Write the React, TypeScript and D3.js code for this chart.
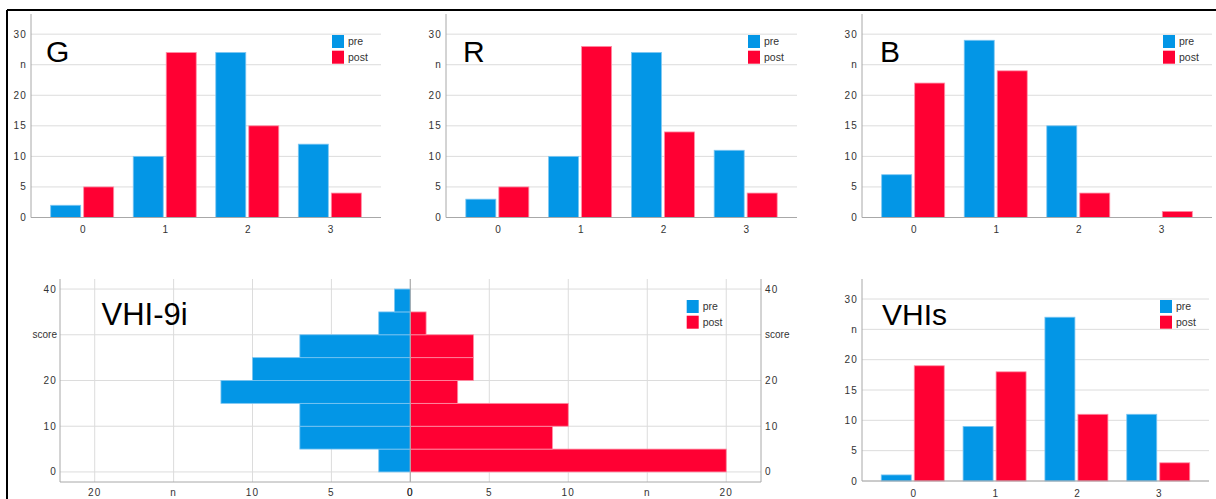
import React from "react";
import * as d3 from "d3";

const categories = ["0", "1", "2", "3"];
const gPre = [2, 10, 27, 12];
const gPost = [5, 27, 15, 4];
const rPre = [3, 10, 27, 11];
const rPost = [5, 28, 14, 4];
const bPre = [7, 29, 15, 0];
const bPost = [22, 24, 4, 1];
const vhisPre = [1, 9, 27, 11];
const vhisPost = [19, 18, 11, 3];

const barYTicks = [0, 5, 10, 15, 20, 25, 30];
const barYTickLabels = ["0", "5", "10", "15", "20", "n", "30"];

const vhiBinStarts = [0, 5, 10, 15, 20, 25, 30, 35];
const vhiBinWidth = 5;
const vhiPre = [2, 7, 7, 12, 10, 7, 2, 1];
const vhiPost = [20, 9, 10, 3, 4, 4, 1, 0];
const pyrYTicks = [0, 10, 20, 30, 40];
const pyrYTickLabels = ["0", "10", "20", "score", "40"];
const pyrXTicks = [0, 5, 10, 15, 20];
const pyrXTickLabels = ["0", "5", "10", "n", "20"];

const seriesNames = ["pre", "post"];

const BLUE = "#0396e6";
const RED = "#ff0033";
const BLUE_EDGE = "#7cc6f2";
const RED_EDGE = "#ff8fa6";
const GRID = "#dcdcdc";
const AXIS = "#a8a8a8";
const TXT = "#333";
const FONT = "'Liberation Sans', Arial, sans-serif";

type BarPanelProps = {
  title: string;
  pre: number[];
  post: number[];
  x0: number;
  x1: number;
  yTop: number;
  yBottom: number;
  titleDx: number;
  titleBaseline: number;
};

function Legend({ x, y }: { x: number; y: number }) {
  return (
    <g>
      {seriesNames.map((s, i) => (
        <g key={s}>
          <rect x={x} y={y + i * 15.7} width={12} height={13} fill={i === 0 ? BLUE : RED} />
          <text x={x + 16} y={y + i * 15.7 + 10} fontSize={10.5} fill={TXT} fontFamily={FONT}>
            {s}
          </text>
        </g>
      ))}
    </g>
  );
}

function BarPanel(p: BarPanelProps) {
  const y = d3.scaleLinear().domain([0, 33.3]).range([p.yBottom, p.yTop]);
  const x = d3.scalePoint<string>().domain(categories).range([p.x0, p.x1]).padding(0.62);
  const bw = 30;
  const gap = 1.5;
  return (
    <g>
      {barYTicks.map((t) => (
        <line key={"g" + t} x1={p.x0} x2={p.x1} y1={y(t)} y2={y(t)} stroke={GRID} strokeWidth={1} />
      ))}
      {categories.map((c, i) => {
        const cx = x(c) as number;
        const els = [];
        if (p.pre[i] > 0)
          els.push(
            <rect key={"pre" + c} x={cx - gap - bw} y={y(p.pre[i])} width={bw} height={y(0) - y(p.pre[i])}
              fill={BLUE} stroke={BLUE_EDGE} strokeWidth={0.8} />
          );
        if (p.post[i] > 0)
          els.push(
            <rect key={"post" + c} x={cx + gap} y={y(p.post[i])} width={bw} height={y(0) - y(p.post[i])}
              fill={RED} stroke={RED_EDGE} strokeWidth={0.8} />
          );
        return <g key={c}>{els}</g>;
      })}
      <line x1={p.x0} x2={p.x0} y1={p.yTop} y2={p.yBottom} stroke={AXIS} strokeWidth={1} />
      <line x1={p.x0} x2={p.x1} y1={p.yBottom} y2={p.yBottom} stroke={AXIS} strokeWidth={1} />
      {barYTicks.map((t, i) => (
        <text key={"yl" + t} x={p.x0 - 4} y={y(t) + 3.5} textAnchor="end" fontSize={10}
          letterSpacing={1.2} fill={TXT} fontFamily={FONT}>
          {barYTickLabels[i]}
        </text>
      ))}
      {categories.map((c) => (
        <text key={"xl" + c} x={(x(c) as number) + 0.6} y={p.yBottom + 15.5} textAnchor="middle" fontSize={10}
          fill={TXT} fontFamily={FONT}>
          {c}
        </text>
      ))}
      <text x={p.x0 + p.titleDx} y={p.titleBaseline} fontSize={30} fill="#000" fontFamily={FONT}>
        {p.title}
      </text>
      <Legend x={p.x1 - 49} y={p.yTop + 21} />
    </g>
  );
}

function Pyramid() {
  const yTop = 279;
  const yBottom = 482;
  const xl = 60;
  const xr = 761;
  const xc = 410.3;
  const y = d3.scaleLinear().domain([-2.2, 42.2]).range([yBottom, yTop]);
  const xL = d3.scaleLinear().domain([0, 22.2]).range([xc, xl]);
  const xR = d3.scaleLinear().domain([0, 22.2]).range([xc, xr]);
  return (
    <g>
      {pyrYTicks.map((t) => (
        <line key={"hy" + t} x1={xl} x2={xr} y1={y(t)} y2={y(t)} stroke={GRID} strokeWidth={1} />
      ))}
      {pyrXTicks.map((t) => (
        <g key={"vx" + t}>
          <line x1={xL(t)} x2={xL(t)} y1={yTop} y2={yBottom} stroke={GRID} strokeWidth={1} />
          <line x1={xR(t)} x2={xR(t)} y1={yTop} y2={yBottom} stroke={GRID} strokeWidth={1} />
        </g>
      ))}
      {vhiBinStarts.map((b, i) => (
        <g key={"bin" + b}>
          {vhiPre[i] > 0 && (
            <rect x={xL(vhiPre[i])} y={y(b + vhiBinWidth)} width={xL(0) - xL(vhiPre[i])}
              height={y(b) - y(b + vhiBinWidth)} fill={BLUE} stroke={BLUE_EDGE} strokeWidth={0.8} />
          )}
          {vhiPost[i] > 0 && (
            <rect x={xR(0)} y={y(b + vhiBinWidth)} width={xR(vhiPost[i]) - xR(0)}
              height={y(b) - y(b + vhiBinWidth)} fill={RED} stroke={RED_EDGE} strokeWidth={0.8} />
          )}
        </g>
      ))}
      <line x1={xc} x2={xc} y1={yTop} y2={yBottom} stroke={AXIS} strokeWidth={1} />
      <line x1={xl} x2={xl} y1={yTop} y2={yBottom} stroke={AXIS} strokeWidth={1} />
      <line x1={xr} x2={xr} y1={yTop} y2={yBottom} stroke={AXIS} strokeWidth={1} />
      <line x1={xl} x2={xr} y1={yBottom} y2={yBottom} stroke={AXIS} strokeWidth={1} />
      {pyrYTicks.map((t, i) => (
        <g key={"yl" + t}>
          <text x={xl - 3} y={y(t) + 3.5} textAnchor="end" fontSize={10}
            letterSpacing={pyrYTickLabels[i] === "score" ? 0 : 1.2} fill={TXT} fontFamily={FONT}>
            {pyrYTickLabels[i]}
          </text>
          <text x={xr + 4} y={y(t) + 3.5} textAnchor="start" fontSize={10}
            letterSpacing={pyrYTickLabels[i] === "score" ? 0 : 1.2} fill={TXT} fontFamily={FONT}>
            {pyrYTickLabels[i]}
          </text>
        </g>
      ))}
      {pyrXTicks.map((t, i) => (
        <g key={"xl" + t}>
          <text x={xL(t)} y={yBottom + 14} textAnchor="middle" fontSize={10} letterSpacing={1.2}
            fill={TXT} fontFamily={FONT}>
            {pyrXTickLabels[i]}
          </text>
          <text x={xR(t)} y={yBottom + 14} textAnchor="middle" fontSize={10} letterSpacing={1.2}
            fill={TXT} fontFamily={FONT}>
            {pyrXTickLabels[i]}
          </text>
        </g>
      ))}
      <text x={101.5} y={325} fontSize={31} fill="#000" fontFamily={FONT}>
        VHI-9i
      </text>
      <Legend x={686.7} y={300} />
    </g>
  );
}

export default function App() {
  return (
    <svg width={1216} height={499} style={{ position: "absolute", left: 0, top: 0, background: "#fff" }}>
      <rect x={0} y={0} width={1216} height={499} fill="#fff" />
      <BarPanel title="G" pre={gPre} post={gPost} x0={31} x1={381} yTop={14} yBottom={217.5} titleDx={15} titleBaseline={62} />
      <BarPanel title="R" pre={rPre} post={rPost} x0={446} x1={797} yTop={14} yBottom={217.5} titleDx={17} titleBaseline={62} />
      <BarPanel title="B" pre={bPre} post={bPost} x0={862} x1={1212} yTop={14} yBottom={217.5} titleDx={18} titleBaseline={62} />
      <BarPanel title="VHIs" pre={vhisPre} post={vhisPost} x0={862} x1={1209} yTop={279} yBottom={481} titleDx={20} titleBaseline={325} />
      <Pyramid />
      <line x1={7} x2={1216} y1={10} y2={10} stroke="#000" strokeWidth={2} />
      <line x1={7} x2={7} y1={10} y2={499} stroke="#000" strokeWidth={2} />
    </svg>
  );
}
